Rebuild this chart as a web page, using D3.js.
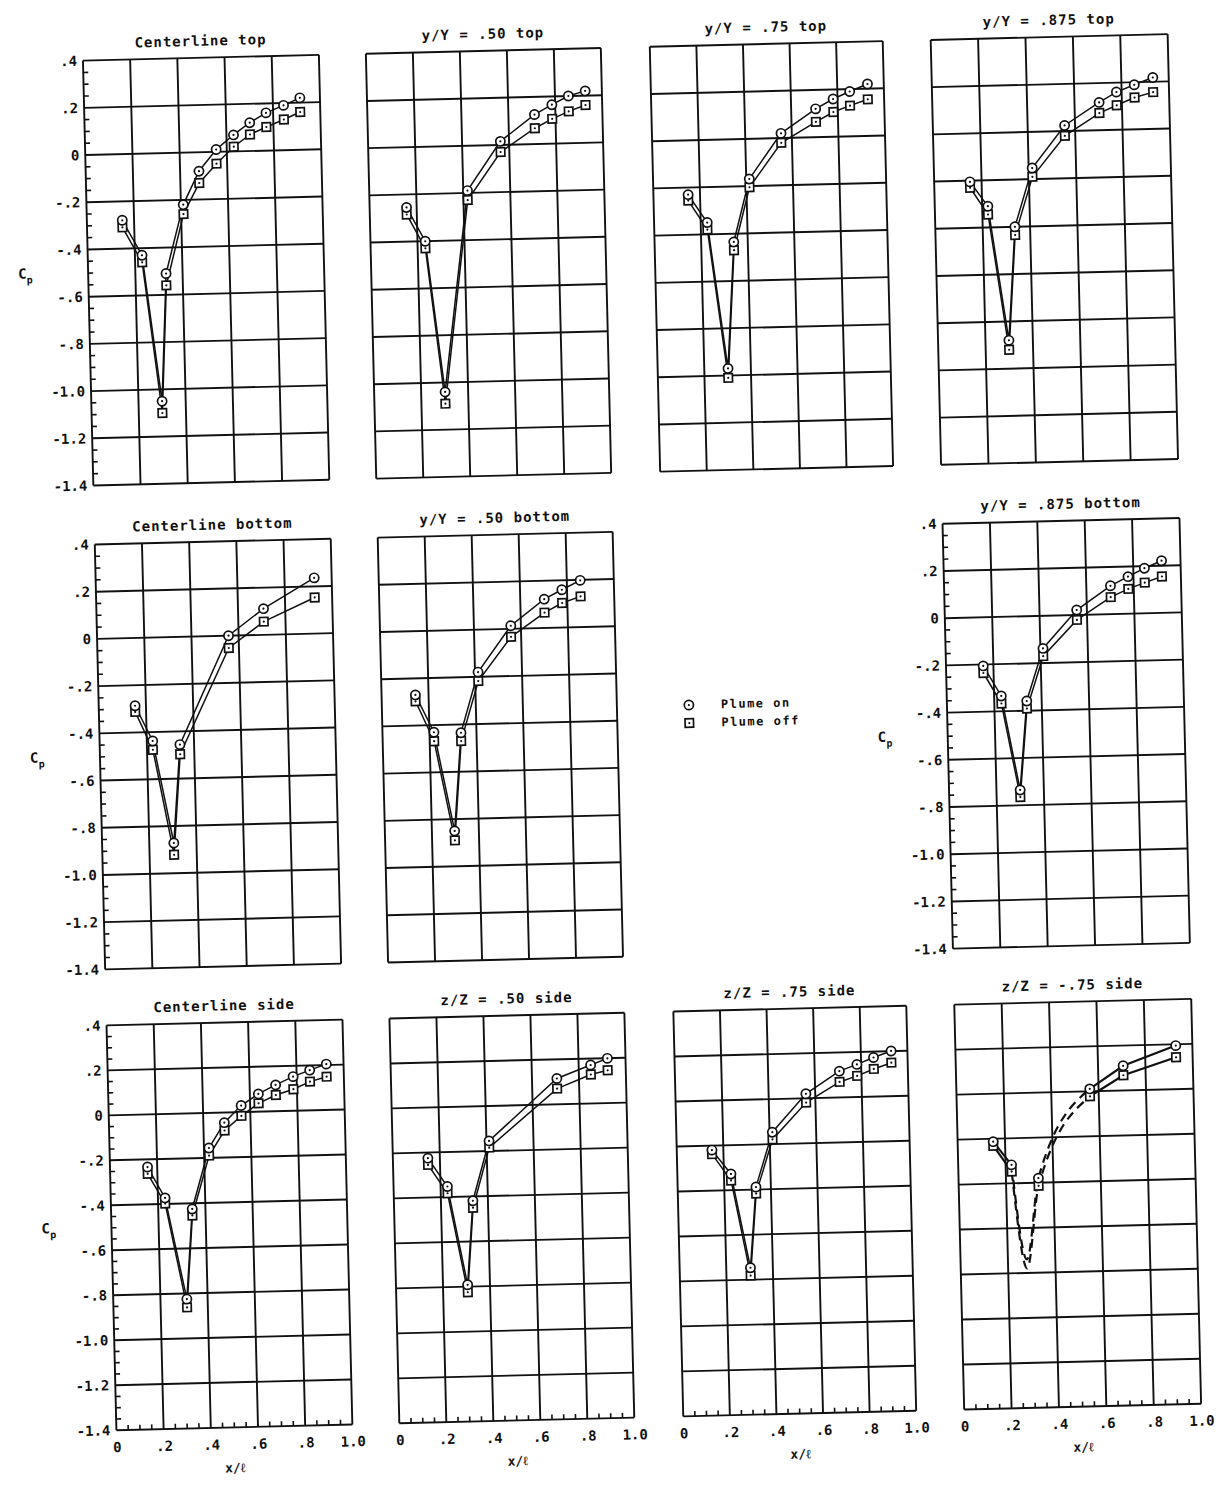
<!DOCTYPE html>
<html>
<head>
<meta charset="utf-8">
<script src="https://cdn.jsdelivr.net/npm/d3@7"></script>
<style>
  body { margin: 0; background: #fff; }
  text { font-family: "DejaVu Sans Mono", monospace; font-weight: bold; fill: #111; }
</style>
</head>
<body>
<svg id="chart" width="1218" height="1505"></svg>
<script>
// ---- data: x/l stations, Cp plume on / plume off ----
const xCLTop   = [0.15, 0.23, 0.30, 0.33, 0.41, 0.48, 0.555, 0.63, 0.70, 0.77, 0.845, 0.915];
const onCLTop  = [-0.28, -0.43, -1.05, -0.51, -0.22, -0.08, 0.01, 0.07, 0.12, 0.16, 0.19, 0.22];
const offCLTop = [-0.31, -0.46, -1.10, -0.56, -0.26, -0.13, -0.05, 0.02, 0.07, 0.10, 0.13, 0.16];

const xY50Top   = [0.157, 0.233, 0.302, 0.418, 0.563, 0.711, 0.786, 0.857, 0.929];
const onY50Top  = [-0.255, -0.40, -1.04, -0.19, 0.015, 0.125, 0.165, 0.20, 0.22];
const offY50Top = [-0.285, -0.43, -1.09, -0.23, -0.03, 0.067, 0.105, 0.135, 0.16];

const xY75Top   = [0.149, 0.228, 0.302, 0.34, 0.413, 0.554, 0.705, 0.781, 0.853, 0.93];
const onY75Top  = [-0.23, -0.35, -0.97, -0.435, -0.17, 0.02, 0.12, 0.16, 0.19, 0.22];
const offY75Top = [-0.255, -0.38, -1.01, -0.47, -0.205, -0.02, 0.065, 0.105, 0.13, 0.155];

const xY875Top   = [0.151, 0.224, 0.299, 0.336, 0.415, 0.556, 0.704, 0.778, 0.854, 0.933];
const onY875Top  = [-0.205, -0.31, -0.88, -0.40, -0.153, 0.024, 0.118, 0.16, 0.189, 0.218];
const offY875Top = [-0.23, -0.345, -0.92, -0.435, -0.19, -0.02, 0.073, 0.104, 0.135, 0.156];

const xCLBot   = [0.154, 0.225, 0.304, 0.34, 0.557, 0.708, 0.926];
const onCLBot  = [-0.287, -0.438, -0.872, -0.456, 0.0, 0.111, 0.236];
const offCLBot = [-0.313, -0.475, -0.922, -0.497, -0.052, 0.056, 0.153];

const xY50Bot   = [0.144, 0.219, 0.297, 0.334, 0.413, 0.557, 0.702, 0.778, 0.857];
const onY50Bot  = [-0.27, -0.43, -0.85, -0.435, -0.18, 0.013, 0.122, 0.16, 0.198];
const offY50Bot = [-0.297, -0.468, -0.89, -0.47, -0.218, -0.034, 0.065, 0.104, 0.13];

const xY875Bot   = [0.157, 0.23, 0.30, 0.337, 0.411, 0.557, 0.702, 0.777, 0.847, 0.92];
const onY875Bot  = [-0.206, -0.335, -0.735, -0.359, -0.138, 0.021, 0.12, 0.157, 0.191, 0.221];
const offY875Bot = [-0.236, -0.367, -0.765, -0.391, -0.171, -0.021, 0.072, 0.105, 0.13, 0.154];

const xCLSide   = [0.159, 0.23, 0.312, 0.344, 0.421, 0.489, 0.562, 0.636, 0.71, 0.785, 0.856, 0.927];
const onCLSide  = [-0.234, -0.373, -0.825, -0.425, -0.156, -0.045, 0.029, 0.079, 0.117, 0.152, 0.179, 0.204];
const offCLSide = [-0.264, -0.398, -0.862, -0.454, -0.19, -0.08, -0.017, 0.037, 0.072, 0.096, 0.128, 0.148];

const xZ50Side   = [0.149, 0.229, 0.305, 0.336, 0.411, 0.706, 0.851, 0.923];
const onZ50Side  = [-0.225, -0.353, -0.792, -0.419, -0.155, 0.115, 0.171, 0.199];
const offZ50Side = [-0.255, -0.383, -0.825, -0.45, -0.185, 0.07, 0.129, 0.146];

const xZ75Side   = [0.151, 0.23, 0.304, 0.336, 0.412, 0.56, 0.706, 0.782, 0.854, 0.93];
const onZ75Side  = [-0.22, -0.328, -0.747, -0.389, -0.147, 0.02, 0.117, 0.145, 0.174, 0.201];
const offZ75Side = [-0.238, -0.357, -0.782, -0.418, -0.179, -0.019, 0.069, 0.094, 0.123, 0.149];

// z/Z = -.75 side: measured points, solid only where joined in the original
const xZm75Side   = [0.15, 0.225, 0.337, 0.563, 0.706, 0.93];
const onZm75Side  = [-0.213, -0.318, -0.38, 0.011, 0.11, 0.194];
const offZm75Side = [-0.231, -0.348, -0.414, -0.022, 0.068, 0.142];
const solidRuns   = [[0, 1], [3, 4, 5]];
// faired (dashed) curve through the missing-data region
const xFair   = [0.225, 0.28, 0.337, 0.563];
const onFair  = [-0.318, -0.74, -0.38, 0.011];
const offFair = [-0.348, -0.78, -0.414, -0.022];

const xTicks = [0, 0.2, 0.4, 0.6, 0.8, 1.0];
const xTickLabels = ["0", ".2", ".4", ".6", ".8", "1.0"];
const yTicks = [0.4, 0.2, 0, -0.2, -0.4, -0.6, -0.8, -1.0, -1.2, -1.4];
const yTickLabels = [".4", ".2", "0", "-.2", "-.4", "-.6", "-.8", "-1.0", "-1.2", "-1.4"];
const legendLabels = ["Plume on", "Plume off"];

// ---- layout ----
const colX = [[100, 336], [383, 618], [667, 900], [948, 1185]];
const rowY = [[48, 473], [532, 957], [1013, 1418]];

const panels = [
  {title: "Centerline top",      col: 0, row: 0, x: xCLTop,   on: onCLTop,   off: offCLTop,   yAxis: true},
  {title: "y/Y = .50 top",       col: 1, row: 0, x: xY50Top,  on: onY50Top,  off: offY50Top},
  {title: "y/Y = .75 top",       col: 2, row: 0, x: xY75Top,  on: onY75Top,  off: offY75Top},
  {title: "y/Y = .875 top",      col: 3, row: 0, x: xY875Top, on: onY875Top, off: offY875Top},
  {title: "Centerline bottom",   col: 0, row: 1, x: xCLBot,   on: onCLBot,   off: offCLBot,   yAxis: true},
  {title: "y/Y = .50 bottom",    col: 1, row: 1, x: xY50Bot,  on: onY50Bot,  off: offY50Bot},
  {title: "y/Y = .875 bottom",   col: 3, row: 1, x: xY875Bot, on: onY875Bot, off: offY875Bot, yAxis: true},
  {title: "Centerline side",     col: 0, row: 2, x: xCLSide,  on: onCLSide,  off: offCLSide,  yAxis: true, xAxis: true},
  {title: "z/Z = .50 side",      col: 1, row: 2, x: xZ50Side, on: onZ50Side, off: offZ50Side, xAxis: true},
  {title: "z/Z = .75 side",      col: 2, row: 2, x: xZ75Side, on: onZ75Side, off: offZ75Side, xAxis: true},
  {title: "z/Z = -.75 side",     col: 3, row: 2, x: xZm75Side, on: onZm75Side, off: offZm75Side, xAxis: true,
   runs: solidRuns, fair: {x: xFair, on: onFair, off: offFair}}
];

const svg = d3.select("#chart");
// the scanned sheet sits slightly rotated
const page = svg.append("g").attr("transform", "rotate(-1.4,609,752)");

const yMinor = d3.range(-28, 8).filter(k => k % 4 !== 0).map(k => k * 0.05);
const xMinor = d3.range(1, 20).filter(k => k % 4 !== 0).map(k => k * 0.05);

function circleMark(g, cx, cy) {
  g.append("circle").attr("cx", cx).attr("cy", cy).attr("r", 4.6)
    .attr("fill", "#fff").attr("stroke", "#111").attr("stroke-width", 1.7);
  g.append("circle").attr("cx", cx).attr("cy", cy).attr("r", 1.1).attr("fill", "#111");
}
function squareMark(g, cx, cy) {
  g.append("rect").attr("x", cx - 4.2).attr("y", cy - 4.2).attr("width", 8.4).attr("height", 8.4)
    .attr("fill", "#fff").attr("stroke", "#111").attr("stroke-width", 1.7);
  g.append("circle").attr("cx", cx).attr("cy", cy).attr("r", 1.1).attr("fill", "#111");
}

panels.forEach(p => {
  const [x0, x1] = colX[p.col];
  const [y0, y1] = rowY[p.row];
  const x = d3.scaleLinear().domain([0, 1]).range([x0, x1]);
  const y = d3.scaleLinear().domain([-1.4, 0.4]).range([y1, y0]);
  const g = page.append("g");

  // grid
  g.selectAll(".vg").data(xTicks).join("line")
    .attr("x1", d => x(d)).attr("x2", d => x(d)).attr("y1", y0).attr("y2", y1)
    .attr("stroke", "#111").attr("stroke-width", 1.9);
  g.selectAll(".hg").data(yTicks).join("line")
    .attr("x1", x0).attr("x2", x1).attr("y1", d => y(d)).attr("y2", d => y(d))
    .attr("stroke", "#111").attr("stroke-width", 1.9);

  // title
  g.append("text").attr("x", (x0 + x1) / 2).attr("y", y0 - 12)
    .attr("text-anchor", "middle").attr("font-size", 14).attr("letter-spacing", 1)
    .text(p.title);

  if (p.yAxis) {
    const ax = g.append("g").attr("transform", `translate(${x0},0)`)
      .call(d3.axisLeft(y).tickValues(yTicks).tickFormat((d, i) => yTickLabels[i]).tickSize(0).tickPadding(6));
    ax.select(".domain").remove();
    ax.selectAll("text").attr("font-size", 14).attr("font-family", "DejaVu Sans Mono").attr("font-weight", "bold").attr("fill", "#111");
    g.selectAll(".ym").data(yMinor).join("line")
      .attr("x1", x0).attr("x2", x0 + 5).attr("y1", d => y(d)).attr("y2", d => y(d))
      .attr("stroke", "#111").attr("stroke-width", 1.6);
    const cp = g.append("text").attr("x", x0 - 70).attr("y", (y0 + y1) / 2 + 4).attr("font-size", 14);
    cp.append("tspan").text("C");
    cp.append("tspan").attr("font-size", 10).attr("dy", 5).text("p");
  }

  if (p.xAxis) {
    const ax = g.append("g").attr("transform", `translate(0,${y1})`)
      .call(d3.axisBottom(x).tickValues(xTicks).tickFormat((d, i) => xTickLabels[i]).tickSize(0).tickPadding(12));
    ax.select(".domain").remove();
    ax.selectAll("text").attr("font-size", 14).attr("font-family", "DejaVu Sans Mono").attr("font-weight", "bold").attr("fill", "#111");
    g.selectAll(".xm").data(xMinor).join("line")
      .attr("x1", d => x(d)).attr("x2", d => x(d)).attr("y1", y1).attr("y2", y1 - 5)
      .attr("stroke", "#111").attr("stroke-width", 1.6);
    g.append("text").attr("x", (x0 + x1) / 2).attr("y", y1 + 45)
      .attr("text-anchor", "middle").attr("font-size", 13).text("x/ℓ");
  }

  const onPts = p.x.map((v, i) => [v, p.on[i]]);
  const offPts = p.x.map((v, i) => [v, p.off[i]]);
  const line = d3.line().x(d => x(d[0])).y(d => y(d[1]));
  const runs = p.runs || [d3.range(p.x.length)];
  const lw = p.runs ? 2.2 : 1.5;

  [onPts, offPts].forEach(pts => {
    runs.forEach(r => {
      g.append("path").attr("d", line(r.map(i => pts[i])))
        .attr("fill", "none").attr("stroke", "#111").attr("stroke-width", lw);
    });
  });

  if (p.fair) {
    const fl = d3.line().x(d => x(d[0])).y(d => y(d[1])).curve(d3.curveMonotoneX);
    [p.fair.on, p.fair.off].forEach(vals => {
      g.append("path").attr("d", fl(p.fair.x.map((v, i) => [v, vals[i]])))
        .attr("fill", "none").attr("stroke", "#111").attr("stroke-width", 2.2)
        .attr("stroke-dasharray", "9,6");
    });
  }

  offPts.forEach(d => squareMark(g, x(d[0]), y(d[1])));
  onPts.forEach(d => circleMark(g, x(d[0]), y(d[1])));
});

// legend
const lg = page.append("g");
circleMark(lg, 690, 707);
squareMark(lg, 690, 725);
lg.selectAll(".lt").data(legendLabels).join("text")
  .attr("x", 722).attr("y", (d, i) => 711 + i * 18)
  .attr("font-size", 12).attr("letter-spacing", 1.5).text(d => d);
</script>
</body>
</html>
